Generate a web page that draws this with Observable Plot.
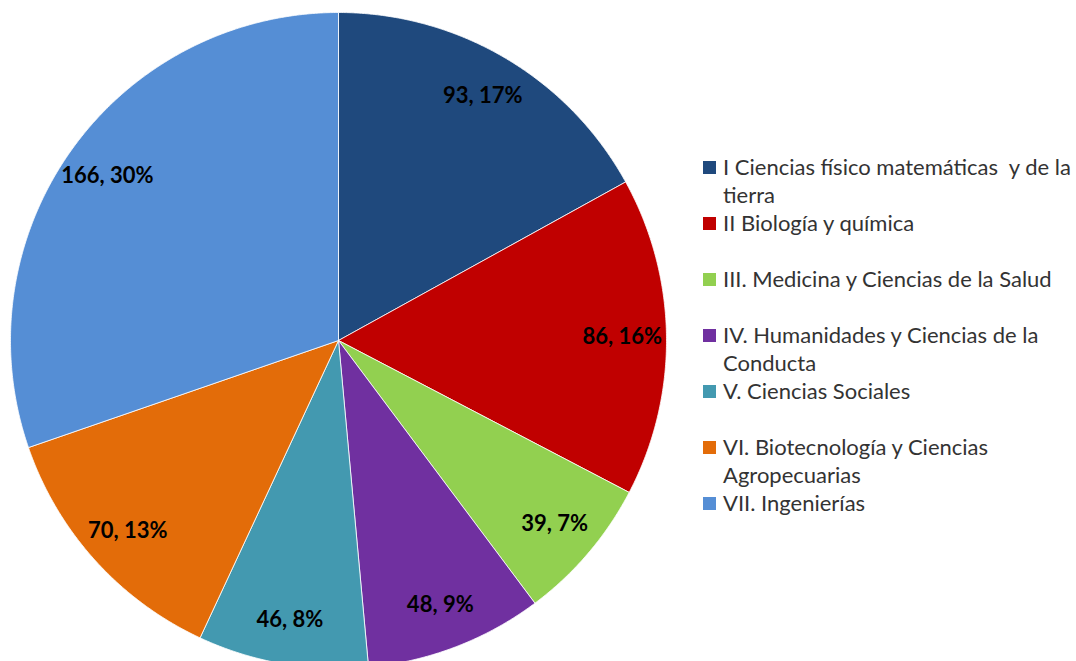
<!DOCTYPE html>
<html>
<head>
<meta charset="utf-8">
<script src="https://cdn.jsdelivr.net/npm/d3@7"></script>
<script src="https://cdn.jsdelivr.net/npm/@observablehq/plot@0.6"></script>
<style>
  html, body { margin: 0; padding: 0; background: #fff; }
  #wrap { position: relative; width: 1076px; height: 661px; overflow: hidden; }
  #legend { position: absolute; left: 703px; top: 153px; width: 380px; font-family: Lato, sans-serif; font-size: 22px; color: #333; }
  .item { height: 56px; display: flex; align-items: flex-start; }
  .sw { width: 13px; height: 13px; margin-top: 8px; margin-right: 7px; flex: none; }
  .lbl { line-height: 28px; white-space: pre-wrap; width: 360px; }
</style>
</head>
<body>
<div id="wrap"></div>
<script>
const categories = [
  "I Ciencias físico matemáticas  y de la tierra",
  "II Biología y química",
  "III. Medicina y Ciencias de la Salud",
  "IV. Humanidades y Ciencias de la Conducta",
  "V. Ciencias Sociales",
  "VI. Biotecnología y Ciencias Agropecuarias",
  "VII. Ingenierías"
];
const values = [93, 86, 39, 48, 46, 70, 166];
const colors = ["#1F497D", "#C00000", "#92D050", "#7030A0", "#4399B0", "#E36C09", "#558ED5"];

const total = d3.sum(values);
const pie = d3.pie().sort(null).value(d => d.value)(categories.map((c, i) => ({cat: c, value: values[i]})));

// polygon points for each slice (angle measured clockwise from 12 o'clock)
const pts = [];
for (const s of pie) {
  const c = s.data.cat;
  pts.push({cat: c, x: 0, y: 0});
  const n = Math.max(2, Math.ceil((s.endAngle - s.startAngle) / 0.005));
  for (let k = 0; k <= n; k++) {
    const a = s.startAngle + (s.endAngle - s.startAngle) * k / n;
    pts.push({cat: c, x: Math.sin(a), y: Math.cos(a)});
  }
  pts.push({cat: c, x: 0, y: 0});
}
const labels = pie.map(s => {
  const a = (s.startAngle + s.endAngle) / 2;
  const r = 0.865;
  return {x: r * Math.sin(a), y: r * Math.cos(a), text: `${s.data.value}, ${Math.round(s.data.value / total * 100)}%`};
});

const plot = Plot.plot({
  width: 1076,
  height: 661,
  margin: 0,
  x: {domain: [-1, 1], range: [10, 666], axis: null},
  y: {domain: [-1, 1], range: [668, 12], axis: null},
  color: {domain: categories, range: colors},
  style: {background: "transparent"},
  marks: [
    Plot.line(pts, {x: "x", y: "y", z: "cat", fill: "cat", stroke: "white", strokeWidth: 0.8, curve: "linear"}),
    Plot.text(labels, {x: "x", y: "y", text: "text", fill: "black", fontSize: 22, fontWeight: "bold", fontFamily: "Lato, sans-serif"})
  ]
});
const wrap = document.getElementById("wrap");
wrap.appendChild(plot);

const color = plot.scale("color");
const legend = document.createElement("div");
legend.id = "legend";
categories.forEach((c, i) => {
  const item = document.createElement("div");
  item.className = "item";
  const sw = document.createElement("div");
  sw.className = "sw";
  sw.style.background = colors[color.domain.indexOf(c)];
  const lbl = document.createElement("div");
  lbl.className = "lbl";
  lbl.textContent = c;
  item.appendChild(sw);
  item.appendChild(lbl);
  legend.appendChild(item);
});
wrap.appendChild(legend);
</script>
</body>
</html>
